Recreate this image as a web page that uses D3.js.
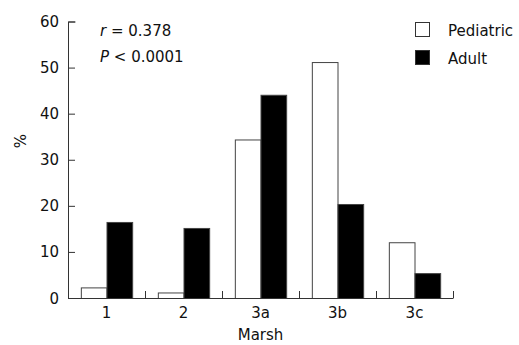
<!DOCTYPE html>
<html>
<head>
<meta charset="utf-8">
<script src="https://cdn.jsdelivr.net/npm/d3@7"></script>
<style>
  body { margin: 0; background: #fff; overflow: hidden; }
  svg { display: block; }
  text { font-family: "DejaVu Sans", sans-serif; fill: #111; font-size: 15px; }
</style>
</head>
<body>
<div id="chart"></div>
<script>
const categories = ['1', '2', '3a', '3b', '3c'];
const seriesNames = ['Pediatric', 'Adult'];
const pediatric = [2.3, 1.2, 34.4, 51.2, 12.1];
const adult = [16.5, 15.2, 44.1, 20.4, 5.4];
const yTicks = [0, 10, 20, 30, 40, 50, 60];

const width = 519, height = 345;
const margin = { top: 21.5, right: 66, bottom: 47, left: 68 };
const innerWidth = width - margin.left - margin.right;
const innerHeight = height - margin.top - margin.bottom;

const svg = d3.select('#chart').append('svg')
  .attr('width', width).attr('height', height);

// scales in page coordinates
const x0 = d3.scaleBand().domain(categories)
  .range([margin.left, margin.left + innerWidth]).padding(0);
const x1 = d3.scaleBand().domain(seriesNames).range([0, x0.bandwidth()])
  .paddingInner(0).paddingOuter(0.5);
const y = d3.scaleLinear().domain([0, 60]).range([margin.top + innerHeight, margin.top]);
const fills = { Pediatric: '#fff', Adult: '#000' };
const y0 = y(0);

const rows = categories.map((c, i) => ({ cat: c, vals: [
  { key: 'Pediatric', v: pediatric[i] },
  { key: 'Adult', v: adult[i] }
] }));

const groups = svg.selectAll('.grp').data(rows).enter().append('g')
  .attr('class', 'grp')
  .attr('transform', d => `translate(${x0(d.cat)},0)`);
groups.selectAll('rect').data(d => d.vals).enter().append('rect')
  .attr('x', d => x1(d.key) + 0.5)
  .attr('y', d => y(d.v) + 0.5)
  .attr('width', x1.bandwidth())
  .attr('height', d => y0 - y(d.v))
  .attr('fill', d => fills[d.key])
  .attr('stroke', '#444')
  .attr('stroke-width', 1);

// y axis, ticks inward (labels drawn separately on the left)
const yAxis = svg.append('g').attr('transform', `translate(${margin.left},0)`)
  .call(d3.axisRight(y).tickValues(yTicks).tickSize(7));
yAxis.selectAll('.tick text').remove();
yAxis.select('.domain').attr('d', `M7.5,${margin.top + 0.5}H0.5V${y0 + 0.5}`).attr('stroke', '#333');
yAxis.selectAll('.tick line').attr('stroke', '#333');
// right-aligned by measuring, anchor start
svg.append('g').selectAll('text').data(yTicks).enter().append('text')
  .attr('y', d => y(d) + 5.5).text(d => d)
  .attr('x', function () { return margin.left - 9 - this.getComputedTextLength(); });

// x axis with separators between bands, ticks inward
const xAxis = svg.append('g');
xAxis.append('path').attr('d', `M${margin.left + 0.5},${y0 + 0.5}H${margin.left + innerWidth + 0.5}`)
  .attr('stroke', '#333').attr('fill', 'none');
xAxis.selectAll('line').data(categories).enter().append('line')
  .attr('x1', d => x0(d) + x0.bandwidth() + 0.5)
  .attr('x2', d => x0(d) + x0.bandwidth() + 0.5)
  .attr('y1', y0).attr('y2', y0 - 7).attr('stroke', '#333');
xAxis.selectAll('text').data(categories).enter().append('text')
  .attr('x', d => x0(d) + x0.bandwidth() / 2).attr('y', y0 + 20)
  .attr('text-anchor', 'middle').text(d => d);

svg.append('text').attr('x', margin.left + innerWidth / 2).attr('y', 340)
  .attr('text-anchor', 'middle').text('Marsh');
svg.append('text').attr('transform', 'translate(26,141) rotate(-90)')
  .attr('text-anchor', 'middle').text('%');

// annotation: italic symbol and the rest as separate texts
function statLine(sym, rest, yPos) {
  const s = svg.append('text').attr('x', 100).attr('y', yPos)
    .style('font-style', 'italic').text(sym);
  svg.append('text').attr('x', 100 + s.node().getComputedTextLength()).attr('y', yPos)
    .style('white-space', 'pre').text(rest);
}
statLine('r', ' = 0.378', 36);
statLine('P', ' < 0.0001', 62);

// legend
const legend = svg.append('g').attr('transform', 'translate(415,22)');
const li = legend.selectAll('g').data(seriesNames).enter().append('g')
  .attr('transform', (d, i) => `translate(0,${i * 28})`);
li.append('rect').attr('x', 0.5).attr('y', 0.5).attr('width', 14).attr('height', 14)
  .attr('fill', d => fills[d]).attr('stroke', '#333');
li.append('text').attr('x', 33).attr('y', 13.5).text(d => d);
</script>
</body>
</html>
